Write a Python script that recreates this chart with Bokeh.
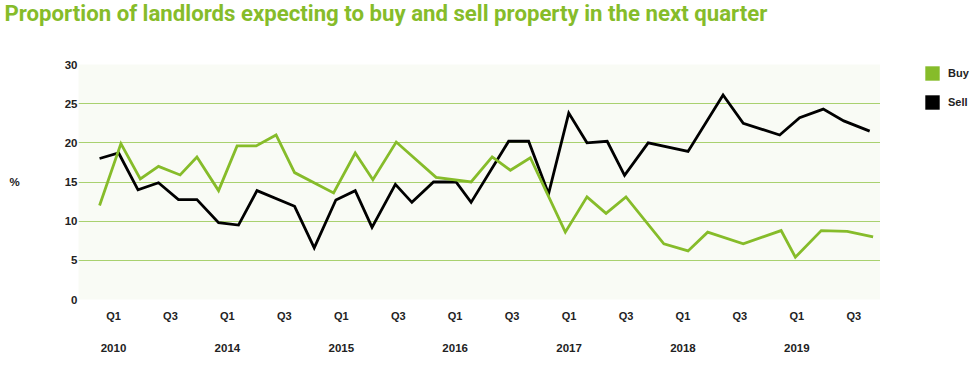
from bokeh.plotting import figure
from bokeh.models import Range1d, LinearAxis, FixedTicker, Legend, LegendItem, Title
from bokeh.layouts import row
from bokeh.embed import file_html
from bokeh.resources import INLINE

# ---- data (x in quarters after the first "Q1" tick) ----
quarter_ticks = [0, 2, 4, 6, 8, 10, 12, 14, 16, 18, 20, 22, 24, 26]
quarter_labels = ["Q1", "Q3", "Q1", "Q3", "Q1", "Q3", "Q1", "Q3", "Q1", "Q3", "Q1", "Q3", "Q1", "Q3"]
year_ticks = [0, 4, 8, 12, 16, 20, 24]
year_labels = ["2010", "2014", "2015", "2016", "2017", "2018", "2019"]

buy_x = [-0.49, 0.26, 0.94, 1.58, 2.34, 2.93, 3.69, 4.34, 5.01, 5.71, 6.36, 7.73, 8.49,
         9.11, 9.93, 11.33, 12.56, 13.30, 13.94, 14.64, 15.87, 16.63, 17.30, 18.00, 19.33,
         20.18, 20.87, 22.12, 23.45, 23.95, 24.86, 25.77, 26.68]
buy_pct = [12.0, 19.9, 15.4, 17.0, 15.9, 18.2, 13.9, 19.6, 19.6, 21.0, 16.2, 13.6, 18.7,
           15.3, 20.1, 15.6, 15.0, 18.2, 16.5, 18.1, 8.6, 13.1, 11.0, 13.1, 7.1,
           6.2, 8.6, 7.1, 8.8, 5.4, 8.8, 8.7, 8.0]

sell_x = [-0.49, 0.18, 0.86, 1.58, 2.28, 2.93, 3.69, 4.39, 5.04, 6.36, 7.05, 7.81, 8.49,
          9.08, 9.90, 10.48, 11.24, 12.03, 12.56, 13.88, 14.58, 15.28, 15.99, 16.63, 17.34,
          17.95, 18.78, 20.18, 21.41, 22.12, 23.40, 24.10, 24.93, 25.65, 26.56]
sell_pct = [18.0, 18.7, 14.0, 14.9, 12.75, 12.75, 9.8, 9.5, 13.9, 11.9, 6.6, 12.7, 13.9,
            9.2, 14.7, 12.4, 15.0, 15.0, 12.4, 20.2, 20.2, 13.5, 23.8, 20.0, 20.2,
            15.85, 20.0, 18.9, 26.1, 22.5, 21.0, 23.2, 24.3, 22.8, 21.5]

series_names = ["Buy", "Sell"]

GREEN = "#86bc2a"
TEXT = "#222222"
FONT = "Liberation Sans"
NAN = float("nan")

p = figure(width=880, height=378, output_backend="svg", toolbar_location=None,
           x_range=Range1d(-1.23, 26.94), y_range=Range1d(0, 30),
           min_border_left=78, min_border_right=0, min_border_top=64, min_border_bottom=79,
           x_axis_type=None, title=None)

# spacer title (closest to the frame) and the real title above it
spacer = Title(text=" ", text_font_size="1px", standoff=39)
main_title = Title(text="Proportion of landlords expecting to buy and sell property in the next quarter",
                   text_color=GREEN, text_font="Roboto", text_font_style="bold",
                   text_font_size="22.2px", offset=-74, standoff=-7, align="left")
p.add_layout(spacer, "above")
p.add_layout(main_title, "above")

p.background_fill_color = "#f9fbf5"
p.border_fill_color = "white"
p.outline_line_color = None

p.xgrid.visible = False
p.ygrid.grid_line_color = "#a9d16f"
p.ygrid.grid_line_width = 1
p.ygrid.ticker = FixedTicker(ticks=[0, 5, 10, 15, 20, 25, 30])

# y axis
ya = p.yaxis[0]
ya.ticker = FixedTicker(ticks=[0, 5, 10, 15, 20, 25, 30])
ya.axis_line_color = None
ya.major_tick_line_color = None
ya.minor_tick_line_color = None
ya.major_tick_in = 0
ya.major_tick_out = 0
ya.major_label_text_font = FONT
ya.major_label_text_font_style = "bold"
ya.major_label_text_font_size = "11.5px"
ya.major_label_text_color = TEXT
ya.major_label_standoff = 1
ya.axis_label = "%"
ya.axis_label_orientation = "horizontal"
ya.axis_label_text_font = FONT
ya.axis_label_text_font_style = "bold"
ya.axis_label_text_font_size = "11.5px"
ya.axis_label_text_color = TEXT
ya.axis_label_standoff = 42

# quarter axis
qa = LinearAxis(ticker=FixedTicker(ticks=quarter_ticks),
                major_label_overrides={t: l for t, l in zip(quarter_ticks, quarter_labels)})
# year axis
yra = LinearAxis(ticker=FixedTicker(ticks=year_ticks),
                 major_label_overrides={t: l for t, l in zip(year_ticks, year_labels)})
for ax, size, standoff in ((qa, "11px", 10), (yra, "11.5px", 19)):
    ax.axis_line_color = None
    ax.major_tick_line_color = None
    ax.minor_tick_line_color = None
    ax.major_tick_in = 0
    ax.major_tick_out = 0
    ax.major_label_text_font = FONT
    ax.major_label_text_font_style = "bold"
    ax.major_label_text_font_size = size
    ax.major_label_text_color = TEXT
    ax.major_label_standoff = standoff
    p.add_layout(ax, "below")

# lines
p.line(sell_x, sell_pct, line_color="black", line_width=2.8, line_join="miter")
p.line(buy_x, buy_pct, line_color=GREEN, line_width=2.8, line_join="miter")

# ---- legend panel on the right ----
lf = figure(width=95, height=378, output_backend="svg", toolbar_location=None,
            x_range=Range1d(0, 1), y_range=Range1d(0, 1),
            min_border_left=43, min_border_right=0, min_border_top=59, min_border_bottom=0,
            x_axis_type=None, y_axis_type=None, title=None)
lf.grid.visible = False
lf.outline_line_color = None
lf.background_fill_color = "white"
lf.border_fill_color = "white"

buy_sw = lf.quad(left=[NAN], right=[NAN], top=[NAN], bottom=[NAN], fill_color=GREEN, line_color=None)
sell_sw = lf.quad(left=[NAN], right=[NAN], top=[NAN], bottom=[NAN], fill_color="black", line_color=None)

legend = Legend(items=[LegendItem(label=series_names[0], renderers=[buy_sw]),
                       LegendItem(label=series_names[1], renderers=[sell_sw])],
                location="top_left", orientation="vertical",
                glyph_width=18, glyph_height=18, label_height=18, spacing=11,
                label_standoff=7, padding=0, margin=0,
                border_line_color=None, background_fill_alpha=0,
                label_text_font=FONT, label_text_font_style="bold",
                label_text_font_size="11px", label_text_color=TEXT)
lf.add_layout(legend)

layout = row(p, lf)
open("out.html", "w").write(file_html(layout, INLINE))
